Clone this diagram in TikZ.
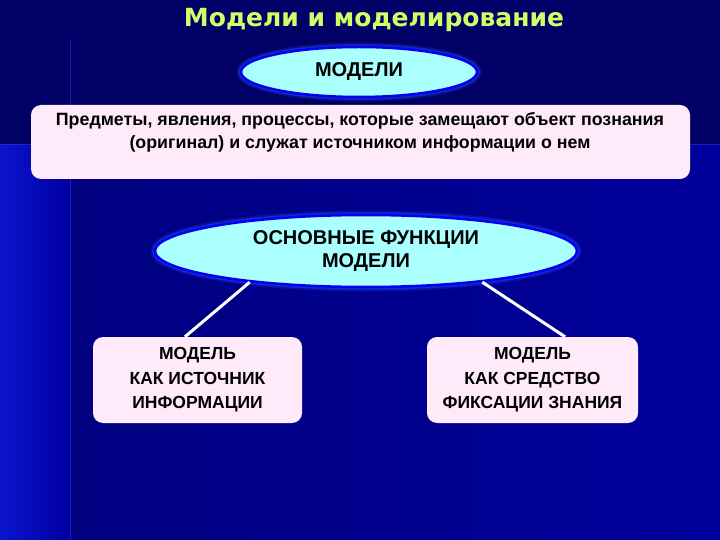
\documentclass[tikz,border=0pt]{standalone}
\usepackage{fontspec}
\setmainfont{Liberation Sans}
\newfontfamily\titlefont{DejaVu Sans}
\usetikzlibrary{shapes.geometric,calc}
\definecolor{bgtop}{RGB}{0,0,102}
\definecolor{bgleftA}{RGB}{10,20,205}
\definecolor{bgleftB}{RGB}{0,0,160}
\definecolor{bgmainA}{RGB}{0,0,128}
\definecolor{bgmainB}{RGB}{0,0,155}
\definecolor{titlecol}{RGB}{206,255,102}
\definecolor{ellfill}{RGB}{170,255,255}
\definecolor{ellline}{RGB}{0,0,245}
\definecolor{glow}{RGB}{40,70,255}
\definecolor{boxfill}{RGB}{255,234,250}
\tikzset{
  ellnode/.style={ellipse, fill=ellfill, draw=ellline, line width=2.5pt,
    preaction={draw=glow, line width=9pt, opacity=0.22},
    preaction={draw=glow, line width=5.5pt, opacity=0.45},
    font=\bfseries\fontsize{20}{23}\selectfont, align=center, inner sep=0pt},
  rbox/.style={rectangle, rounded corners=10pt, fill=boxfill, inner sep=0pt},
  boxtext/.style={font=\bfseries\fontsize{17.5}{24.5}\selectfont, align=center},
  conn/.style={draw=white, line width=3pt}
}
\begin{document}
\begin{tikzpicture}[x=1pt,y=-1pt]
\useasboundingbox (0,0) rectangle (720,540);
% background
\fill[bgtop] (0,0) rectangle (720,540);
\shade[left color=bgleftA, right color=bgleftB] (0,145) rectangle (70,540);
\shade[left color=bgmainA, right color=bgmainB] (70,145) rectangle (720,540);
\draw[glow, opacity=0.45, line width=1pt] (70,40) -- (70,540);
\draw[glow, opacity=0.45, line width=1pt] (0,145) -- (720,145);
% title
\node[font=\titlefont\bfseries\fontsize{25}{28}\selectfont, text=titlecol] (title) at (374,20) {Модели и моделирование};
% models ellipse
\node[ellnode, minimum width=236pt, minimum height=50pt] (models) at (359,72) {МОДЕЛИ};
% definition box
\node[rbox, minimum width=659pt, minimum height=74pt] (def) at (360.5,142) {};
\node[font=\bfseries\fontsize{17.8}{23}\selectfont, align=center] (deftext) at (360,132)
  {Предметы, явления, процессы, которые замещают объект познания\\(оригинал) и служат источником информации о нем};
% functions ellipse
\node[ellnode, minimum width=422pt, minimum height=72pt] (func) at (366,251) {ОСНОВНЫЕ ФУНКЦИИ\\МОДЕЛИ};
% lower boxes
\node[rbox, boxtext, minimum width=209pt, minimum height=86pt] (box1) at (197.5,380) {МОДЕЛЬ\\КАК ИСТОЧНИК\\ИНФОРМАЦИИ};
\node[rbox, boxtext, minimum width=211pt, minimum height=86pt] (box2) at (532.5,380) {МОДЕЛЬ\\КАК СРЕДСТВО\\ФИКСАЦИИ ЗНАНИЯ};
% connectors
\draw[conn] (func.195) -- ($(box1.north west)!0.44!(box1.north east)$);
\draw[conn] (func.-15) -- ($(box2.north west)!0.654!(box2.north east)$);
\end{tikzpicture}
\end{document}
